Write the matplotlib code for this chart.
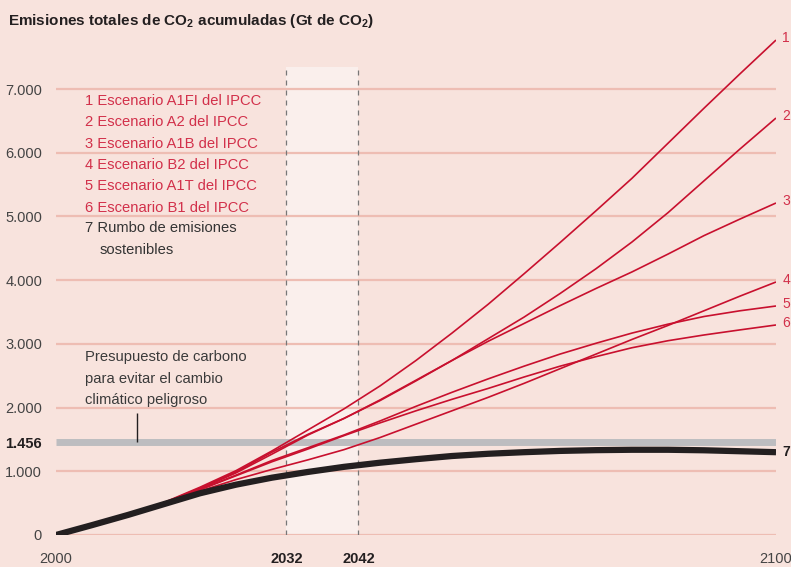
import matplotlib
matplotlib.use('Agg')
import matplotlib.pyplot as plt

# Emisiones acumuladas de CO2 (Gt), lectura aproximada del grafico
years = list(range(2000, 2101, 5))
a1fi = [0, 150, 320, 510, 750, 1010, 1320, 1650, 1980, 2340, 2740, 3170, 3620, 4100, 4590, 5090, 5600, 6150, 6700, 7240, 7770]
a2 = [0, 150, 320, 505, 735, 990, 1300, 1580, 1830, 2110, 2420, 2740, 3080, 3420, 3790, 4180, 4600, 5060, 5560, 6060, 6546]
a1b = [0, 150, 320, 500, 725, 975, 1270, 1570, 1830, 2120, 2430, 2740, 3040, 3320, 3600, 3870, 4130, 4410, 4700, 4960, 5212]
b2 = [0, 150, 315, 490, 690, 870, 1030, 1180, 1340, 1530, 1740, 1950, 2160, 2380, 2610, 2840, 3070, 3290, 3520, 3750, 3972]
a1t = [0, 150, 320, 500, 715, 940, 1170, 1370, 1570, 1790, 2020, 2240, 2450, 2650, 2840, 3010, 3170, 3310, 3430, 3520, 3595]
b1 = [0, 150, 320, 500, 710, 930, 1150, 1350, 1560, 1760, 1950, 2130, 2300, 2480, 2650, 2800, 2940, 3050, 3140, 3220, 3297]
sostenible = [0, 155, 315, 485, 655, 790, 900, 990, 1070, 1135, 1190, 1240, 1275, 1300, 1320, 1332, 1338, 1338, 1330, 1315, 1300]

presupuesto = 1456
window = (2032, 2042)
grid_vals = [0, 1000, 2000, 3000, 4000, 5000, 6000, 7000]
ytick_vals = [0, 1000, 1456, 2000, 3000, 4000, 5000, 6000, 7000]
ytick_labels = ['0', '1.000', '1.456', '2.000', '3.000', '4.000', '5.000', '6.000', '7.000']
xtick_vals = [2000, 2032, 2042, 2100]

legend_labels = ['1 Escenario A1FI del IPCC', '2 Escenario A2 del IPCC', '3 Escenario A1B del IPCC',
                 '4 Escenario B2 del IPCC', '5 Escenario A1T del IPCC', '6 Escenario B1 del IPCC']

bg = '#f8e3dd'
red = '#c8102e'
red_txt = '#d2304a'
grid_col = '#eebdb3'

plt.rcParams['font.family'] = ['Liberation Sans', 'DejaVu Sans']
plt.rcParams['mathtext.fontset'] = 'custom'
plt.rcParams['mathtext.rm'] = 'Liberation Sans'
plt.rcParams['mathtext.bf'] = 'Liberation Sans:bold'

fig = plt.figure(figsize=(7.91, 5.67), dpi=100, facecolor=bg)
ymax = 7900
ax = fig.add_axes([56 / 791, 32 / 567, 720 / 791, ymax * 0.0637 / 567])
ax.set_facecolor(bg)
ax.set_xlim(2000, 2100)
ax.set_ylim(0, ymax)
for s in ax.spines.values():
    s.set_visible(False)

band_top = 7347
ax.fill_between(window, 0, band_top, color='#faefec', lw=0, zorder=1)
ax.vlines(window, 0, band_top, colors='#777777', linestyles=(0, (4, 4)), lw=0.9, zorder=2)
ax.hlines(grid_vals, 2000, 2100, colors=grid_col, lw=1.6, zorder=1.5)
ax.hlines(presupuesto, 2000, 2100, colors='#bdbdc0', lw=5, zorder=2)

series = [a1fi, a2, a1b, b2, a1t, b1]
for i, s in enumerate(series):
    ax.plot(years, s, color=red, lw=1.2, zorder=3, solid_capstyle='butt')
    ax.text(2100.9, s[-1] + 30, str(i + 1), color=red_txt, fontsize=10, va='center', ha='left')
ax.plot(years, sostenible, color='#231f20', lw=4.5, zorder=4, solid_capstyle='butt')
ax.text(2100.9, sostenible[-1], '7', color='#231f20', fontsize=10, fontweight='bold', va='center', ha='left')

ax.set_yticks(ytick_vals)
ax.set_yticklabels(ytick_labels, fontsize=10.5, color='#444444')
ax.get_yticklabels()[2].set_fontweight('bold')
ax.get_yticklabels()[2].set_color('#231f20')
ax.set_xticks(xtick_vals)
ax.set_xticklabels([str(v) for v in xtick_vals], fontsize=10.5, color='#444444')
for lab in ax.get_xticklabels()[1:3]:
    lab.set_fontweight('bold')
    lab.set_color('#231f20')
ax.tick_params(length=0)
ax.tick_params(axis='y', pad=10)
ax.tick_params(axis='x', pad=12)

for i, lab in enumerate(legend_labels):
    fig.text(85 / 791, 1 - (101 + 21.3 * i) / 567, lab, color=red_txt, fontsize=10.6,
             va='center', ha='left')
fig.text(85 / 791, 1 - 228 / 567, '7 Rumbo de emisiones', color='#333333', fontsize=10.6,
         va='center', ha='left')
fig.text(100 / 791, 1 - 250 / 567, 'sostenibles', color='#333333', fontsize=10.6,
         va='center', ha='left')

for j, lab in enumerate(['Presupuesto de carbono', 'para evitar el cambio', 'climático peligroso']):
    fig.text(85 / 791, 1 - (357 + 21.5 * j) / 567, lab, color='#3a3a3a', fontsize=10.6,
             va='center', ha='left')
ax.vlines(2011.3, presupuesto, 1910, colors='#231f20', lw=1, zorder=3)

fig.text(8 / 791, 1 - 21 / 567, r'Emisiones totales de CO$_\mathbf{2}$ acumuladas (Gt de CO$_\mathbf{2}$)',
         fontsize=11, fontweight='bold', color='#231f20', va='center', ha='left')

fig.savefig('out.png', dpi=100, facecolor=bg)
